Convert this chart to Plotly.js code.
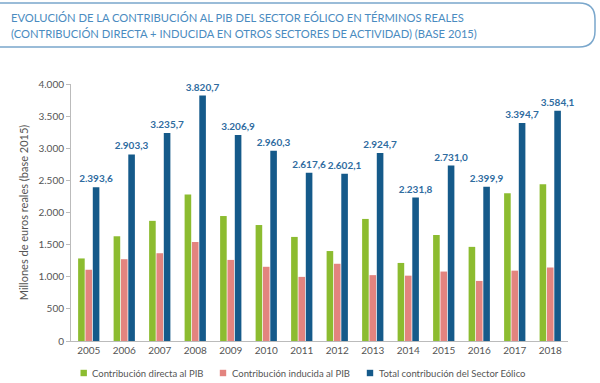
<!DOCTYPE html>
<html>
<head>
<meta charset="utf-8">
<script src="https://cdn.plot.ly/plotly-3.0.1.min.js"></script>
<style>
html,body{margin:0;padding:0;background:#fff;}
#chart{width:600px;height:383px;}
</style>
</head>
<body>
<div id="chart"></div>
<script>
const years = ['2005','2006','2007','2008','2009','2010','2011','2012','2013','2014','2015','2016','2017','2018'];
const directa = [1285,1630,1870,2280,1945,1805,1620,1400,1900,1215,1650,1465,2300,2440];
const inducida = [1109,1273,1366,1541,1262,1155,998,1202,1025,1017,1081,935,1095,1144];
const total = [2393.6,2903.3,3235.7,3820.7,3206.9,2960.3,2617.6,2602.1,2924.7,2231.8,2731.0,2399.9,3394.7,3584.1];
const seriesNames = ['Contribución directa al PIB','Contribución inducida al PIB','Total contribución del Sector Eólico'];
const seriesColors = ['#8cbc30','#e3847f','#155a8a'];
const titleLines = ['EVOLUCIÓN DE LA CONTRIBUCIÓN AL PIB DEL SECTOR EÓLICO EN TÉRMINOS REALES','(CONTRIBUCIÓN DIRECTA + INDUCIDA EN OTROS SECTORES DE ACTIVIDAD) (BASE 2015)'];
const yTitle = 'Millones de euros reales (base 2015)';

const font = 'Lato, "Open Sans", sans-serif';
const traces = [
  {type:'bar', x:years, y:directa, name:seriesNames[0], marker:{color:seriesColors[0]}, hoverinfo:'none'},
  {type:'bar', x:years, y:inducida, name:seriesNames[1], marker:{color:seriesColors[1]}, hoverinfo:'none'},
  {type:'bar', x:years, y:total, name:seriesNames[2], marker:{color:seriesColors[2]},
   texttemplate:'%{y:,.1f}', textposition:'outside', cliponaxis:false, constraintext:'none',
   textfont:{family:font, size:10, color:'#2f6c9f', weight:'bold'}, hoverinfo:'none'}
];

const L = 71, R = 32, T = 84, B = 42;
const pw = 600-L-R, ph = 383-T-B;
const px = v => (v-L)/pw, py = v => (383-B-v)/ph;

const layout = {
  width:600, height:383,
  margin:{l:L, r:R, t:T, b:B},
  paper_bgcolor:'#fff', plot_bgcolor:'#fff',
  separators:',.',
  barmode:'group', bargap:0.38, bargroupgap:0.1,
  font:{family:font, color:'#555'},
  showlegend:false,
  xaxis:{type:'category', showline:true, linecolor:'#bbb', linewidth:1, ticks:'',
         tickfont:{size:10, color:'#555'}, showgrid:false, zeroline:false},
  yaxis:{range:[0,4000], dtick:500, tickformat:',d', showline:true, linecolor:'#bbb', linewidth:1,
         ticks:'outside', ticklen:4, tickcolor:'#bbb', showgrid:false, zeroline:false,
         tickfont:{size:10, color:'#555'},
         title:{text:yTitle, font:{size:11, color:'#555'}, standoff:7}},
  shapes:[],
  annotations:[]
};

// title box
const r = 16;
layout.shapes.push({type:'path', xref:'paper', yref:'paper', layer:'above', line:{color:'#7aa7cc', width:1.5},
  path:'M '+px(-2)+','+py(3)+' L '+px(595-r)+','+py(3)+
  ' Q '+px(595)+','+py(3)+' '+px(595)+','+py(3+r)+
  ' L '+px(595)+','+py(47-r)+' Q '+px(595)+','+py(47)+' '+px(595-r)+','+py(47)+
  ' L '+px(-2)+','+py(47)});
const titleY = [17, 33];
titleLines.forEach((t,i)=>{
  layout.annotations.push({xref:'paper', yref:'paper', text:t, showarrow:false,
    x:px(9), y:py(titleY[i]), xanchor:'left', yanchor:'middle',
    font:{family:font, size:11.2, color:'#4a8bc0'}});
});

// legend
const legX = [83.7, 223, 370];
const legY = 373;
seriesNames.forEach((n,i)=>{
  layout.shapes.push({type:'rect', xref:'paper', yref:'paper', fillcolor:seriesColors[i], line:{width:0},
    x0:px(legX[i]-3.2), x1:px(legX[i]+3.2), y0:py(legY+3.2), y1:py(legY-3.2)});
  layout.annotations.push({xref:'paper', yref:'paper', text:n, showarrow:false,
    x:px(legX[i]+6.5), y:py(legY), xanchor:'left', yanchor:'middle',
    font:{family:font, size:9.5, color:'#555'}});
});

Plotly.newPlot('chart', traces, layout, {displayModeBar:false, staticPlot:true});
</script>
</body>
</html>
